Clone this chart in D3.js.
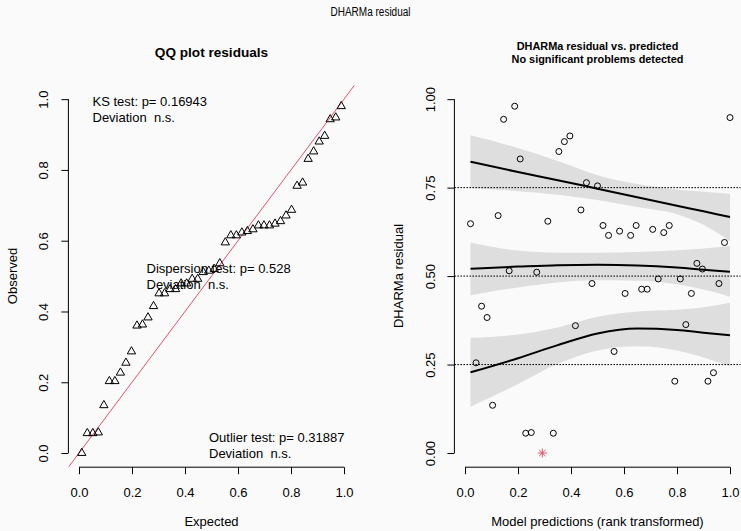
<!DOCTYPE html>
<html>
<head>
<meta charset="utf-8">
<script src="https://cdn.jsdelivr.net/npm/d3@7"></script>
<style>
  html, body { margin: 0; padding: 0; background: #fafafa; }
  svg { display: block; font-family: "Liberation Sans", Arial, Helvetica, sans-serif; }
  text { white-space: pre; }
</style>
</head>
<body>
<svg id="chart" width="741" height="531"></svg>
<script>
// Scaled residuals, in order of the rank-transformed model predictions
const predictionRank = [0.0208,0.0417,0.0625,0.0833,0.1042,0.1250,0.1458,0.1667,0.1875,0.2083,
  0.2292,0.2500,0.2708,0.2917,0.3125,0.3333,0.3542,0.3750,0.3958,0.4167,
  0.4375,0.4583,0.4792,0.5000,0.5208,0.5417,0.5625,0.5833,0.6042,0.6250,
  0.6458,0.6667,0.6875,0.7083,0.7292,0.7500,0.7708,0.7917,0.8125,0.8333,
  0.8542,0.8750,0.8958,0.9167,0.9375,0.9583,0.9792,1.0000];
const residuals = [0.648,0.255,0.415,0.383,0.135,0.671,0.943,0.515,0.980,0.831,
  0.056,0.058,0.511,0.000,0.655,0.056,0.852,0.880,0.896,0.360,
  0.687,0.764,0.479,0.755,0.643,0.615,0.287,0.627,0.451,0.615,
  0.643,0.463,0.463,0.632,0.492,0.623,0.643,0.203,0.492,0.363,
  0.451,0.536,0.520,0.203,0.227,0.479,0.595,0.948];

// QQ plot: expected uniform quantiles and sorted observed residuals
const qqExpected = [0.0104,0.0313,0.0521,0.0729,0.0938,0.1146,0.1354,0.1563,0.1771,0.1979,
  0.2188,0.2396,0.2604,0.2813,0.3021,0.3229,0.3438,0.3646,0.3854,0.4063,
  0.4271,0.4479,0.4688,0.4896,0.5104,0.5313,0.5521,0.5729,0.5938,0.6146,
  0.6354,0.6563,0.6771,0.6979,0.7188,0.7396,0.7604,0.7813,0.8021,0.8229,
  0.8438,0.8646,0.8854,0.9063,0.9271,0.9479,0.9688,0.9896];
const qqObserved = [0.000,0.056,0.056,0.058,0.135,0.203,0.203,0.227,0.255,0.287,
  0.360,0.363,0.383,0.415,0.451,0.451,0.463,0.463,0.479,0.479,
  0.492,0.492,0.511,0.515,0.520,0.536,0.595,0.615,0.615,0.623,
  0.627,0.632,0.643,0.643,0.643,0.648,0.655,0.671,0.687,0.755,
  0.764,0.831,0.852,0.880,0.896,0.943,0.948,0.980];

// Quantile regression fits (0.25, 0.5, 0.75) with confidence bands
const quantileX   = [0.0208, 0.2, 0.35, 0.5, 0.65, 0.8, 0.9, 1.0];
const q75Fit      = [0.823, 0.794, 0.771, 0.747, 0.723, 0.699, 0.683, 0.667];
const q75Upper    = [0.898, 0.862, 0.825, 0.785, 0.760, 0.745, 0.738, 0.733];
const q75Lower    = [0.748, 0.740, 0.730, 0.715, 0.695, 0.675, 0.645, 0.598];
const q50Fit      = [0.521, 0.527, 0.531, 0.532, 0.530, 0.524, 0.518, 0.512];
const q50Upper    = [0.595, 0.572, 0.566, 0.566, 0.568, 0.573, 0.578, 0.585];
const q50Lower    = [0.446, 0.468, 0.482, 0.488, 0.487, 0.477, 0.462, 0.442];
const q25Fit      = [0.228, 0.268, 0.305, 0.338, 0.352, 0.348, 0.340, 0.333];
const q25Upper    = [0.326, 0.335, 0.355, 0.385, 0.400, 0.405, 0.412, 0.425];
const q25Lower    = [0.131, 0.195, 0.252, 0.290, 0.302, 0.290, 0.270, 0.245];

const referenceLevels = [0.25, 0.5, 0.75];
const qqTicks = [0, 0.2, 0.4, 0.6, 0.8, 1.0];
const residualTicks = [0, 0.25, 0.5, 0.75, 1.0];

const testLabels = {
  ks: ["KS test: p= 0.16943", "Deviation  n.s."],
  dispersion: ["Dispersion test: p= 0.528", "Deviation  n.s."],
  outlier: ["Outlier test: p= 0.31887", "Deviation  n.s."]
};

const RED = "#DF536B";
const svg = d3.select("#chart");

// ---- scales (R-style 4% padding around [0, 1]) ----
const xL = d3.scaleLinear([-0.04, 1.04], [68.4, 354.6]);
const xR = d3.scaleLinear([-0.04, 1.04], [454.4, 740.6]);
const y  = d3.scaleLinear([-0.04, 1.04], [467.2, 85]);

// ---- titles ----
svg.append("text").attr("x", 370.5).attr("y", 16).attr("text-anchor", "middle")
  .attr("font-size", 12).attr("textLength", 80).attr("lengthAdjust", "spacingAndGlyphs")
  .text("DHARMa residual");
svg.append("text").attr("x", 211.5).attr("y", 57).attr("text-anchor", "middle")
  .attr("font-size", 13.6).attr("font-weight", "bold").text("QQ plot residuals");
svg.append("text").attr("x", 597.5).attr("y", 50).attr("text-anchor", "middle")
  .attr("font-size", 10.9).attr("font-weight", "bold").text("DHARMa residual vs. predicted");
svg.append("text").attr("x", 597.5).attr("y", 63).attr("text-anchor", "middle")
  .attr("font-size", 10.9).attr("font-weight", "bold").text("No significant problems detected");

// ---- axis helpers: R-style axis line from first to last tick ----
function bottomAxis(scale, ticks, fmt) {
  const g = svg.append("g").attr("transform", `translate(0,${y.range()[0]})`)
    .call(d3.axisBottom(scale).tickValues(ticks).tickFormat(fmt).tickSize(7).tickSizeOuter(0));
  g.select(".domain").remove();
  g.append("line").attr("x1", scale(ticks[0])).attr("x2", scale(ticks[ticks.length - 1]))
    .attr("stroke", "#000");
  g.selectAll(".tick text").attr("y", 30).attr("dy", null).attr("font-size", 13).attr("fill", "#000");
  g.selectAll(".tick line").attr("stroke", "#000");
  return g;
}
function leftAxis(xPos, ticks, fmt, offset) {
  const g = svg.append("g").attr("transform", `translate(${xPos},0)`)
    .call(d3.axisLeft(y).tickValues(ticks).tickFormat(fmt).tickSize(7).tickSizeOuter(0));
  g.select(".domain").remove();
  g.append("line").attr("y1", y(ticks[0])).attr("y2", y(ticks[ticks.length - 1]))
    .attr("stroke", "#000");
  g.selectAll(".tick text").attr("x", null).attr("dy", null)
    .attr("text-anchor", "middle").attr("font-size", 13).attr("fill", "#000")
    .attr("transform", `translate(${-offset},0) rotate(-90)`);
  g.selectAll(".tick line").attr("stroke", "#000");
  return g;
}
svg.attr("font-family", null);

// ================= Left panel: QQ plot =================
bottomAxis(xL, qqTicks, d3.format(".1f"));
leftAxis(xL.range()[0], qqTicks, d3.format(".1f"), 20.5);

svg.append("text").attr("x", 211.5).attr("y", 526).attr("text-anchor", "middle")
  .attr("font-size", 13).text("Expected");
svg.append("text").attr("transform", "translate(17,276) rotate(-90)").attr("text-anchor", "middle")
  .attr("font-size", 13).text("Observed");

// identity line, clipped to the plot region
svg.append("clipPath").attr("id", "clipL").append("rect")
  .attr("x", xL.range()[0]).attr("y", y.range()[1])
  .attr("width", xL.range()[1] - xL.range()[0]).attr("height", y.range()[0] - y.range()[1]);
svg.append("line").attr("clip-path", "url(#clipL)")
  .attr("x1", xL(-0.04)).attr("y1", y(-0.04)).attr("x2", xL(1.04)).attr("y2", y(1.04))
  .attr("stroke", RED).attr("stroke-width", 1);

// open triangles
const tri = d3.symbol().type(d3.symbolTriangle).size(30);
svg.append("g").selectAll("path").data(qqExpected.map((e, i) => [e, qqObserved[i]]))
  .join("path")
  .attr("transform", d => `translate(${xL(d[0])},${y(d[1])})`)
  .attr("d", tri).attr("fill", "none").attr("stroke", "#000").attr("stroke-width", 1);

// test result annotations
function legend(x, yBase, lines) {
  lines.forEach((t, i) => {
    svg.append("text").attr("x", x).attr("y", yBase + i * 16).attr("font-size", 13).text(t);
  });
}
legend(92.5, 105.5, testLabels.ks);
legend(146.5, 272.5, testLabels.dispersion);
legend(209, 441.5, testLabels.outlier);

// ================= Right panel: residual vs. predicted =================
bottomAxis(xR, [0, 0.2, 0.4, 0.6, 0.8, 1.0], d3.format(".1f"));
leftAxis(xR.range()[0], residualTicks, d3.format(".2f"), 19.5);

svg.append("text").attr("x", 597.5).attr("y", 526).attr("text-anchor", "middle")
  .attr("font-size", 13).text("Model predictions (rank transformed)");
svg.append("text").attr("transform", "translate(403,276) rotate(-90)").attr("text-anchor", "middle")
  .attr("font-size", 13).text("DHARMa residual");

// confidence bands
const bands = [
  [q75Lower, q75Upper], [q50Lower, q50Upper], [q25Lower, q25Upper]
];
const area = d3.area().curve(d3.curveMonotoneX)
  .x(d => xR(d.x)).y0(d => y(d.lo)).y1(d => y(d.hi));
bands.forEach(([lo, hi]) => {
  svg.append("path")
    .datum(quantileX.map((x, i) => ({ x, lo: lo[i], hi: hi[i] })))
    .attr("d", area).attr("fill", "#dedede").attr("stroke", "none");
});

// reference levels
svg.append("g").selectAll("line").data(referenceLevels).join("line")
  .attr("x1", xR.range()[0]).attr("x2", xR.range()[1])
  .attr("y1", d => y(d)).attr("y2", d => y(d))
  .attr("stroke", "#000").attr("stroke-width", 1).attr("stroke-dasharray", "1.6,1.4");

// quantile fits
const line = d3.line().curve(d3.curveMonotoneX).x(d => xR(d.x)).y(d => y(d.v));
[q75Fit, q50Fit, q25Fit].forEach(fit => {
  svg.append("path")
    .datum(quantileX.map((x, i) => ({ x, v: fit[i] })))
    .attr("d", line).attr("fill", "none").attr("stroke", "#000").attr("stroke-width", 2);
});

// residual points; values at 0 or 1 are simulation outliers
const pts = predictionRank.map((x, i) => ({ x, v: residuals[i] }));
svg.append("g").selectAll("circle").data(pts.filter(d => d.v > 0 && d.v < 1)).join("circle")
  .attr("cx", d => xR(d.x)).attr("cy", d => y(d.v)).attr("r", 3)
  .attr("fill", "none").attr("stroke", "#000").attr("stroke-width", 1);

const outliers = pts.filter(d => d.v <= 0 || d.v >= 1);
const og = svg.append("g").selectAll("g").data(outliers).join("g")
  .attr("transform", d => `translate(${xR(d.x)},${y(d.v)})`);
// asterisk: plus and cross overlaid
og.append("path").attr("d", "M-4.5,0H4.5M0,-4.5V4.5M-3.2,-3.2L3.2,3.2M-3.2,3.2L3.2,-3.2")
  .attr("stroke", RED).attr("stroke-width", 1).attr("fill", "none");
</script>
</body>
</html>
